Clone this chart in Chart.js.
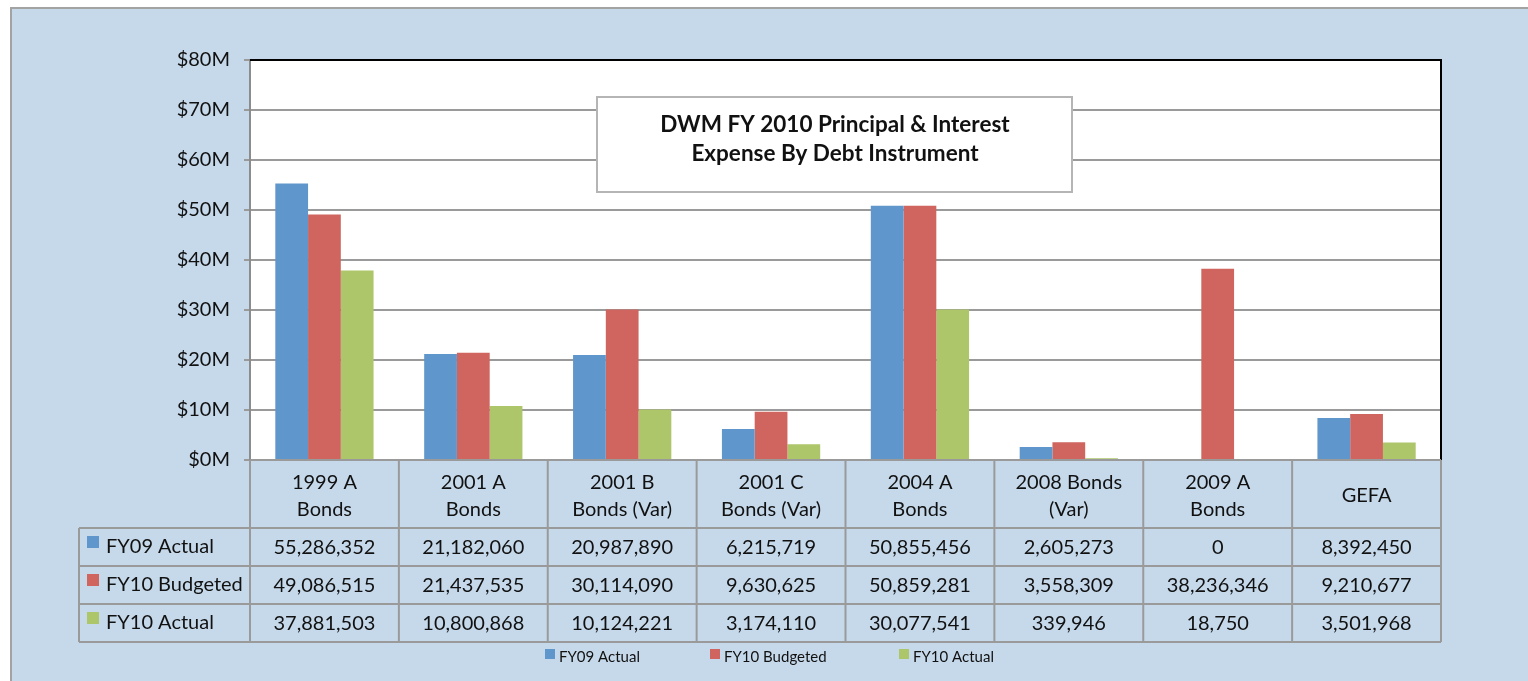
<!DOCTYPE html>
<html>
<head>
<meta charset="utf-8">
<script src="https://cdn.jsdelivr.net/npm/chart.js@4"></script>
<style>
  body { margin: 0; background: #fff; }
  canvas { display: block; }
</style>
</head>
<body>
<canvas id="debtChart" width="1528" height="681"></canvas>
<script>
// data
var categories = [['1999 A', 'Bonds'], ['2001 A', 'Bonds'], ['2001 B', 'Bonds (Var)'], ['2001 C', 'Bonds (Var)'],
                  ['2004 A', 'Bonds'], ['2008 Bonds', '(Var)'], ['2009 A', 'Bonds'], ['GEFA']];
var fy09Actual   = [55286352, 21182060, 20987890, 6215719, 50855456, 2605273, 0, 8392450];
var fy10Budgeted = [49086515, 21437535, 30114090, 9630625, 50859281, 3558309, 38236346, 9210677];
var fy10Actual   = [37881503, 10800868, 10124221, 3174110, 30077541, 339946, 18750, 3501968];
var seriesNames  = ['FY09 Actual', 'FY10 Budgeted', 'FY10 Actual'];
var seriesColors = ['#5F96CB', '#CF655E', '#ADC66A'];
var titleLines   = ['DWM FY 2010 Principal & Interest', 'Expense By Debt Instrument'];

var FONT = 'Lato, "Open Sans", sans-serif';
var LINE = '#9a9a9a';

// background, frame and white plot area
var backdrop = {
    id: 'backdrop',
    beforeDraw: function(chart) {
        var ctx = chart.ctx, a = chart.chartArea;
        ctx.save();
        ctx.fillStyle = '#C6D9EB';
        ctx.fillRect(10, 7, chart.width - 10, chart.height - 7);
        ctx.strokeStyle = '#a3a3a3';
        ctx.lineWidth = 2;
        ctx.strokeRect(11, 8, chart.width + 10, chart.height + 10);
        ctx.fillStyle = '#ffffff';
        ctx.fillRect(a.left, a.top, a.right - a.left, a.bottom - a.top);
        ctx.restore();
    }
};

// data table under the plot, title box and bottom legend
var dataTable = {
    id: 'dataTable',
    afterDraw: function(chart) {
        var ctx = chart.ctx, a = chart.chartArea, x = chart.scales.x;
        var half = (x.getPixelForTick(1) - x.getPixelForTick(0)) / 2;
        var headTop = a.bottom, headBottom = 528, rowH = 38;
        var rows = [fy09Actual, fy10Budgeted, fy10Actual];
        var tableBottom = headBottom + rows.length * rowH;
        var leftCol = 79;
        ctx.save();

        // black top/right border of plot
        ctx.strokeStyle = '#000';
        ctx.lineWidth = 2;
        ctx.beginPath();
        ctx.moveTo(a.left, a.top); ctx.lineTo(a.right, a.top); ctx.lineTo(a.right, a.bottom);
        ctx.stroke();

        // grid of the table
        ctx.strokeStyle = LINE;
        ctx.lineWidth = 2;
        ctx.beginPath();
        ctx.moveTo(a.left, headTop); ctx.lineTo(a.right, headTop);
        for (var r = 0; r <= rows.length; r++) {
            var yy = headBottom + r * rowH;
            ctx.moveTo(leftCol, yy); ctx.lineTo(a.right, yy);
        }
        for (var i = 0; i < categories.length; i++) {
            var lx = x.getPixelForTick(i) - half;
            ctx.moveTo(lx, headTop); ctx.lineTo(lx, tableBottom);
        }
        ctx.moveTo(a.right, headTop); ctx.lineTo(a.right, tableBottom);
        ctx.moveTo(leftCol, headBottom); ctx.lineTo(leftCol, tableBottom);
        ctx.stroke();

        // header labels
        ctx.fillStyle = '#111';
        ctx.font = '20px ' + FONT;
        ctx.textAlign = 'center';
        ctx.textBaseline = 'middle';
        var headMid = (headTop + headBottom) / 2 + 2;
        categories.forEach(function(lines, i) {
            var cx = x.getPixelForTick(i);
            var start = headMid - (lines.length - 1) * 27 / 2;
            lines.forEach(function(t, k) { ctx.fillText(t, cx, start + k * 27); });
        });

        // rows
        rows.forEach(function(vals, r) {
            var cy = headBottom + r * rowH + rowH / 2;
            ctx.fillStyle = seriesColors[r];
            ctx.fillRect(87, cy - 11, 12, 12);
            ctx.fillStyle = '#111';
            ctx.textAlign = 'left';
            ctx.fillText(seriesNames[r], 106, cy);
            ctx.textAlign = 'center';
            vals.forEach(function(v, i) {
                ctx.fillText(v.toLocaleString('en-US'), x.getPixelForTick(i), cy + 1);
            });
        });

        // bottom legend
        var legendX = [545, 710, 899];
        ctx.font = '15px ' + FONT;
        ctx.textAlign = 'left';
        seriesNames.forEach(function(n, k) {
            ctx.fillStyle = seriesColors[k];
            ctx.fillRect(legendX[k], 649, 10, 10);
            ctx.fillStyle = '#111';
            ctx.fillText(n, legendX[k] + 14, 657);
        });

        // title box
        ctx.fillStyle = '#fff';
        ctx.fillRect(597, 97, 475, 95);
        ctx.strokeStyle = '#b5b5b5';
        ctx.lineWidth = 2;
        ctx.strokeRect(597, 97, 475, 95);
        ctx.fillStyle = '#111';
        ctx.font = 'bold 22.5px ' + FONT;
        ctx.textAlign = 'center';
        ctx.fillText(titleLines[0], 835, 125);
        ctx.fillText(titleLines[1], 835, 154);
        ctx.restore();
    }
};

function buildChart() {
    var ctx = document.getElementById('debtChart').getContext('2d');
    var chart = new Chart(ctx, {
        type: 'bar',
        data: {
            labels: categories.map(function(c) { return c.join(' '); }),
            datasets: [
                { label: seriesNames[0], data: fy09Actual, backgroundColor: seriesColors[0] },
                { label: seriesNames[1], data: fy10Budgeted, backgroundColor: seriesColors[1] },
                { label: seriesNames[2], data: fy10Actual, backgroundColor: seriesColors[2] }
            ]
        },
        options: {
            responsive: false,
            devicePixelRatio: 1,
            animation: false,
            layout: { padding: { left: 0, top: 60, right: 87, bottom: 221 } },
            datasets: { bar: { categoryPercentage: 0.66, barPercentage: 1.0, borderWidth: 0 } },
            plugins: {
                legend: { display: false },
                title: { display: false },
                tooltip: { enabled: false }
            },
            scales: {
                x: { display: false },
                y: {
                    min: 0,
                    max: 80000000,
                    ticks: {
                        stepSize: 10000000,
                        padding: 14,
                        color: '#111',
                        font: { family: FONT, size: 20 },
                        callback: function(v) { return '$' + (v / 1e6) + 'M'; }
                    },
                    grid: { color: LINE, lineWidth: 2, tickLength: 6, tickColor: LINE },
                    border: { color: '#8c8c8c', width: 2 },
                    afterFit: function(s) { s.width = 250; }
                }
            }
        },
        plugins: [backdrop, dataTable]
    });
    return chart;
}

buildChart();
</script>
</body>
</html>
